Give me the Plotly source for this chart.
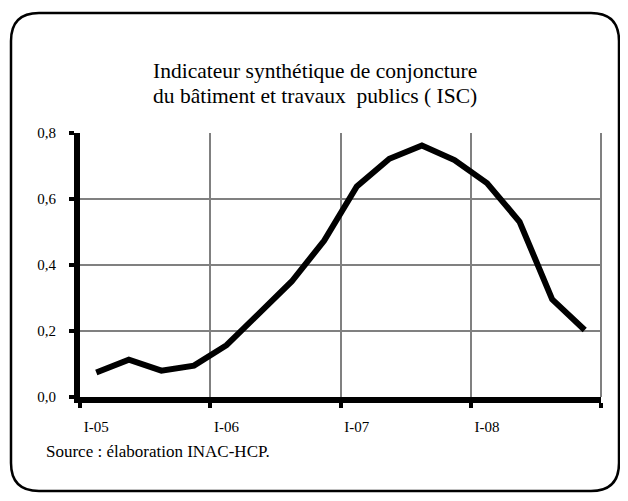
import plotly.graph_objects as go

# quarterly ISC values, 2005 Q1 .. 2008 Q4
quarters = [
    "I-05", "II-05", "III-05", "IV-05",
    "I-06", "II-06", "III-06", "IV-06",
    "I-07", "II-07", "III-07", "IV-07",
    "I-08", "II-08", "III-08", "IV-08",
]
isc = [0.074, 0.113, 0.080, 0.095, 0.157, 0.252, 0.350, 0.474,
       0.638, 0.722, 0.762, 0.718, 0.648, 0.531, 0.296, 0.203]

y_ticks = [0.0, 0.2, 0.4, 0.6, 0.8]

title_lines = ["Indicateur synthétique de conjoncture",
               "du bâtiment et travaux  publics ( ISC)"]
source_text = "Source : élaboration INAC-HCP."

SERIF = "Liberation Serif"

# the page body adds an 8px margin, so the figure is drawn 8px smaller/shifted
OFF = 8
W, H = 628 - OFF, 501 - OFF
L, T = 80 - OFF, 133 - OFF
pw, ph = 521, 264
R, B = W - L - pw, H - T - ph

fig = go.Figure()
fig.add_trace(go.Scatter(
    x=quarters, y=isc, mode="lines",
    line=dict(color="black", width=6),
    showlegend=False, hoverinfo="skip",
))


def px(x):
    return (x - OFF - L) / pw


def py(y):
    return (T + ph - (y - OFF)) / ph


# right-hand gridline at the last category boundary
fig.add_shape(type="line", xref="paper", yref="paper", x0=1, x1=1, y0=0, y1=1,
              line=dict(color="#808080", width=2), layer="below")

# rounded frame around the whole chart
x0, x1, y0, y1 = px(11), px(619), py(491), py(13)
rx, ry = 28 / pw, 28 / ph
frame = (
    f"M {x0+rx},{y1} L {x1-rx},{y1} Q {x1},{y1} {x1},{y1-ry} "
    f"L {x1},{y0+ry} Q {x1},{y0} {x1-rx},{y0} "
    f"L {x0+rx},{y0} Q {x0},{y0} {x0},{y0+ry} "
    f"L {x0},{y1-ry} Q {x0},{y1} {x0+rx},{y1} Z"
)
fig.add_shape(type="path", path=frame, xref="paper", yref="paper",
              line=dict(color="black", width=2.5), layer="above")

for line, ly in zip(title_lines, [71, 96]):
    fig.add_annotation(text=line, xref="paper", yref="paper",
                       x=px(315), y=py(ly), xanchor="center", yanchor="middle",
                       showarrow=False,
                       font=dict(family=SERIF, size=21.5, color="black"))
fig.add_annotation(text=source_text, xref="paper", yref="paper",
                   x=px(44), y=py(451), xanchor="left", yanchor="middle",
                   showarrow=False, font=dict(family=SERIF, size=17, color="black"))

fig.update_xaxes(
    type="category", categoryorder="array", categoryarray=quarters,
    tickson="boundaries", dtick=4, tickangle=0,
    showgrid=True, gridcolor="#808080", gridwidth=2,
    showline=True, linecolor="black", linewidth=6,
    ticks="outside", ticklen=5, tickwidth=4, tickcolor="black",
    ticklabelstandoff=11,
    tickfont=dict(family=SERIF, size=15, color="black"),
    range=[-0.5, 15.5], zeroline=False,
)
fig.update_yaxes(
    range=[0, 0.8], tickvals=y_ticks, tickformat=".1f",
    showgrid=True, gridcolor="#808080", gridwidth=2,
    showline=True, linecolor="black", linewidth=6,
    ticks="outside", ticklen=5, tickwidth=4, tickcolor="black",
    ticklabelstandoff=10,
    tickfont=dict(family=SERIF, size=15, color="black"),
    zeroline=False,
)

fig.update_layout(
    width=W, height=H,
    margin=dict(l=L, r=R, t=T, b=B),
    paper_bgcolor="white", plot_bgcolor="white",
    separators=", ",
    font=dict(family=SERIF, color="black"),
)

fig.write_html("out.html")
